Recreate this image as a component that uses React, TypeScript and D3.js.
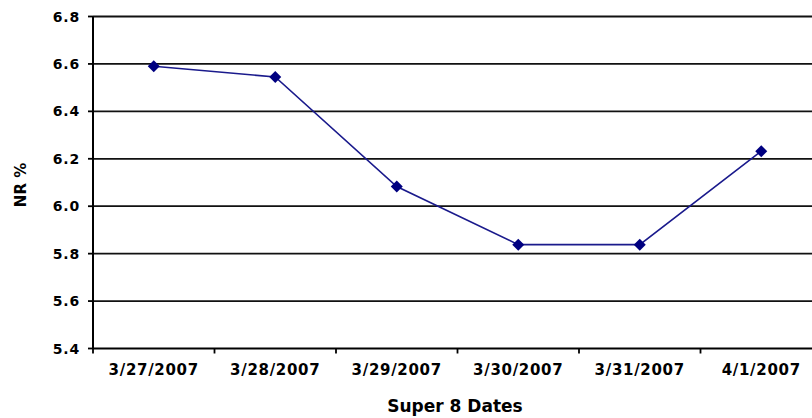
import React from "react";
import * as d3 from "d3";

const dates = ["3/27/2007", "3/28/2007", "3/29/2007", "3/30/2007", "3/31/2007", "4/1/2007"];
const nrValues = [6.59, 6.545, 6.083, 5.838, 5.838, 6.232];
const yTicks = [5.4, 5.6, 5.8, 6.0, 6.2, 6.4, 6.6, 6.8];

const W = 812;
const H = 418;
const left = 93;
const right = 822;
const top = 16.5;
const bottom = 348.5;

const squareDiamond = {
  draw(ctx: any, size: number) {
    const r = Math.sqrt(size / 2);
    ctx.moveTo(0, -r);
    ctx.lineTo(r, 0);
    ctx.lineTo(0, r);
    ctx.lineTo(-r, 0);
    ctx.closePath();
  },
};

export default function App() {
  const x = d3.scaleBand<string>().domain(dates).range([left, right]).padding(0);
  const y = d3.scaleLinear().domain([5.4, 6.8]).range([bottom, top]);
  const line = d3
    .line<number>()
    .x((_, i) => (x(dates[i]) as number) + x.bandwidth() / 2)
    .y((d) => y(d));
  const font = "'DejaVu Sans', Verdana, sans-serif";
  const diamond = d3.symbol().type(squareDiamond as any).size(72)();
  const boundaries = dates.map((d) => x(d) as number).concat([right]);

  return (
    <svg width={W} height={H} style={{ position: "absolute", left: 0, top: 0, background: "#fff" }}>
      {yTicks.map((t) => (
        <g key={t}>
          {t > 5.4 && (
            <line x1={left} x2={W} y1={y(t)} y2={y(t)} stroke="#111" strokeWidth={1.8} />
          )}
          <line x1={left - 5} x2={left} y1={y(t)} y2={y(t)} stroke="#000" strokeWidth={1.8} />
          <text
            x={80}
            y={y(t)}
            dy="0.36em"
            textAnchor="end"
            fontFamily={font}
            fontWeight="bold"
            fontSize={14}
            letterSpacing={0.8}
            fill="#000"
          >
            {t.toFixed(1)}
          </text>
        </g>
      ))}
      <line x1={left} x2={W} y1={bottom} y2={bottom} stroke="#000" strokeWidth={2} />
      <line x1={left} x2={left} y1={top} y2={bottom} stroke="#000" strokeWidth={2} />
      {boundaries.map((b, i) => (
        <line key={i} x1={b} x2={b} y1={bottom} y2={bottom + 5} stroke="#000" strokeWidth={1.8} />
      ))}
      {dates.map((d) => (
        <text
          key={d}
          x={(x(d) as number) + x.bandwidth() / 2}
          y={375}
          textAnchor="middle"
          fontFamily={font}
          fontWeight="bold"
          fontSize={15}
          letterSpacing={0.7}
          fill="#000"
        >
          {d}
        </text>
      ))}
      <path d={line(nrValues) || ""} fill="none" stroke="#1a1a8c" strokeWidth={1.6} />
      {nrValues.map((v, i) => (
        <path
          key={i}
          d={diamond || ""}
          transform={`translate(${(x(dates[i]) as number) + x.bandwidth() / 2},${y(v)})`}
          fill="#000080"
        />
      ))}
      <text
        x={455}
        y={412}
        textAnchor="middle"
        fontFamily={font}
        fontWeight="bold"
        fontSize={17}
        fill="#000"
      >
        Super 8 Dates
      </text>
      <text
        transform="translate(26,185) rotate(-90)"
        textAnchor="middle"
        fontFamily={font}
        fontWeight="bold"
        fontSize={15}
        fill="#000"
      >
        NR %
      </text>
    </svg>
  );
}
